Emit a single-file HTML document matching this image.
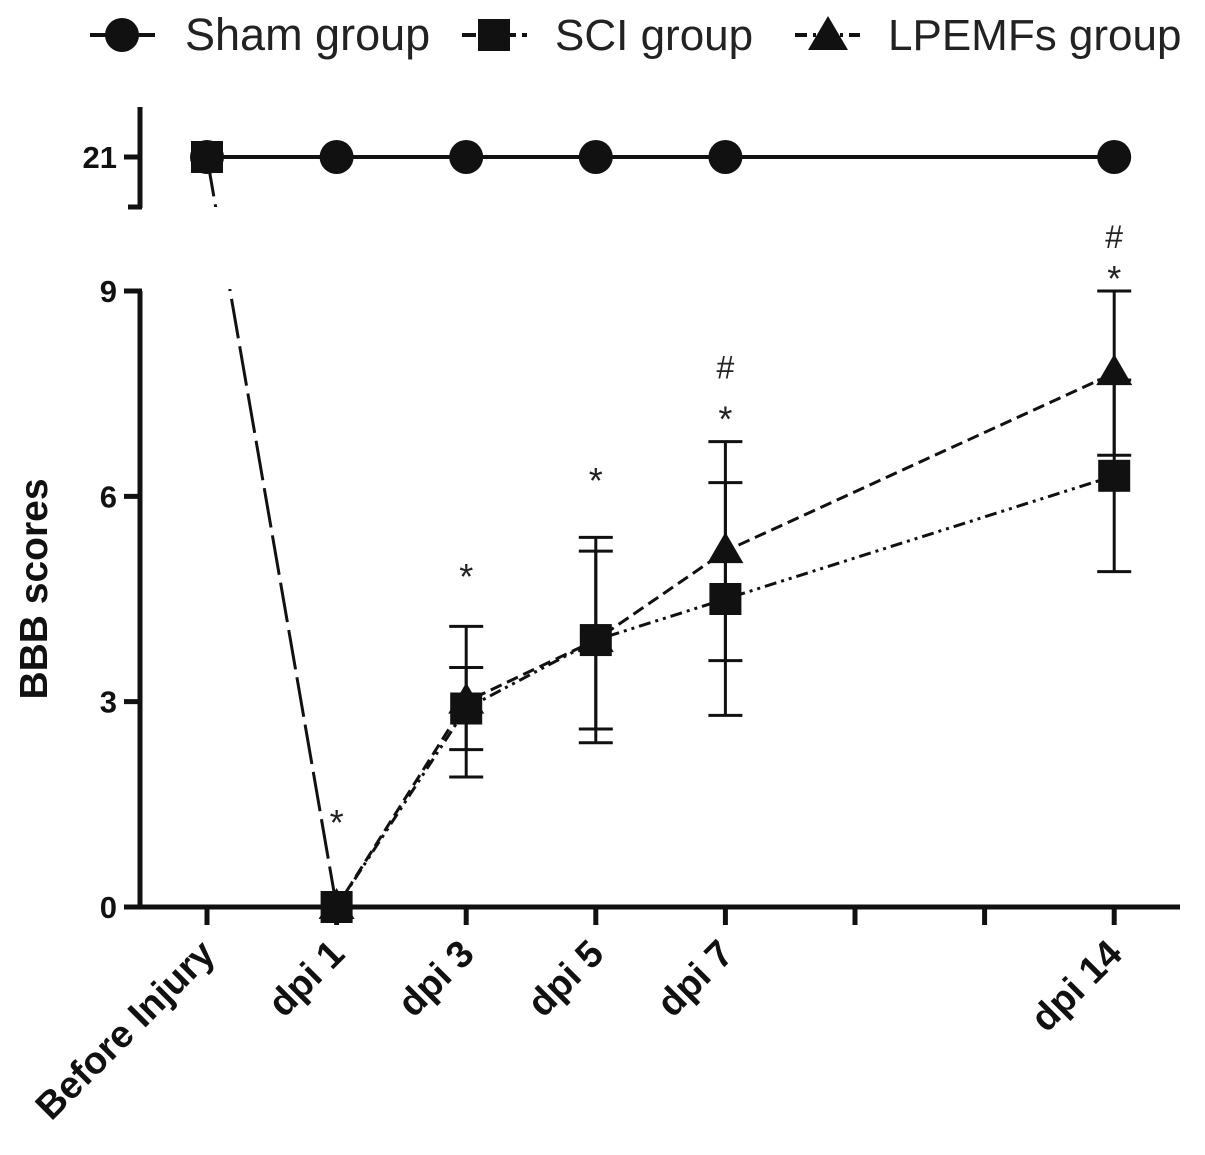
<!DOCTYPE html>
<html><head><meta charset="utf-8"><style>
html,body{margin:0;padding:0;background:#fff;}
svg{display:block;font-family:"Liberation Sans",sans-serif;}
</style></head><body>
<svg id="chart" width="1205" height="1155" viewBox="0 0 1205 1155">
<defs>
<clipPath id="lowClip"><rect x="140" y="289" width="1060" height="640"/></clipPath>
<clipPath id="upClip"><rect x="140" y="100" width="1060" height="107"/></clipPath>
</defs>
<g id="legend">
 <g>
  <line x1="90" y1="35" x2="155" y2="35" stroke="#111" stroke-width="4"/>
  <circle cx="122" cy="35" r="17" fill="#111"/>
  <text x="185" y="50" font-size="45" fill="#222">Sham group</text>
 </g>
 <g>
  <line x1="462" y1="35" x2="527" y2="35" stroke="#111" stroke-width="4" stroke-dasharray="14,6"/>
  <rect x="478" y="19" width="32" height="32" fill="#111"/>
  <text x="555" y="50" font-size="44" fill="#222">SCI group</text>
 </g>
 <g>
  <line x1="795" y1="35" x2="860" y2="35" stroke="#111" stroke-width="4" stroke-dasharray="12,6,3,6"/>
  <polygon points="828,16 848,50 808,50" fill="#111"/>
  <text x="888" y="50" font-size="44" fill="#222">LPEMFs group</text>
 </g>
</g>
<g id="axes"></g>
<g id="plot"></g>
</svg>
<script>
const categories = ["Before Injury","dpi 1","dpi 3","dpi 5","dpi 7","dpi 14"];
const catSlots = [0,1,2,3,4,7];
const shamValues = [21,21,21,21,21,21];
const sciValues = [21,0,2.9,3.9,4.5,6.3];
const sciErr = [0,0,0.6,1.3,1.7,1.4];
const lpValues = [21,0,3.0,3.9,5.2,7.8];
const lpErr = [0,0,1.1,1.5,1.6,1.2];
const lowTicks = [0,3,6,9];
const upTicks = [21];
const annotationIdx = [1,2,3,4,4,5,5];
const annotationSym = ["*","*","*","*","#","*","#"];
const annotationLevel = [1.4,5.0,6.4,7.3,7.9,9.35,9.8];

const NS="http://www.w3.org/2000/svg";
const axes=document.getElementById('axes');
const plot=document.getElementById('plot');
function el(tag,attrs,parent){const e=document.createElementNS(NS,tag);for(const k in attrs)e.setAttribute(k,attrs[k]);(parent||plot).appendChild(e);return e;}
function xS(slot){return 207+slot*129.6;}
function y(v){ if(v>=15) return 157-(v-21)*20; return 907-v*(616/9); }

let a=el('line',{x1:140,y1:291,x2:140,y2:909,stroke:'#111','stroke-width':5},axes);

a=el('line',{x1:140,y1:107,x2:140,y2:208,stroke:'#111','stroke-width':5},axes);

el('line',{x1:128,y1:207,x2:142,y2:207,stroke:'#111','stroke-width':5},axes);
a=el('line',{x1:138,y1:907,x2:1180,y2:907,stroke:'#111','stroke-width':5},axes);

lowTicks.concat(upTicks).forEach(t=>{
 el('line',{x1:124,y1:y(t),x2:142,y2:y(t),stroke:'#111','stroke-width':5},axes);
 const tx=el('text',{x:117,y:y(t)+11,'font-size':31,'font-weight':'bold','text-anchor':'end',fill:'#111'},axes);
 tx.textContent=t;
 
});
for(let s=0;s<8;s++){el('line',{x1:xS(s),y1:907,x2:xS(s),y2:925,stroke:'#111','stroke-width':5},axes);}
categories.forEach((c,i)=>{
 const x=xS(catSlots[i])+10, yy=956;
 const tx=el('text',{x:x,y:yy,'font-size':38,'font-weight':'bold','text-anchor':'end',fill:'#111',transform:`rotate(-45 ${x} ${yy})`},axes);
 tx.textContent=c;
 
});
const yt=el('text',{x:47,y:589,'font-size':39,'font-weight':'bold','text-anchor':'middle',fill:'#111',transform:'rotate(-90 47 589)'},axes);
yt.textContent='BBB scores';


['lowClip','upClip'].forEach(cp=>{
 const l=el('line',{x1:xS(0),y1:y(21),x2:xS(catSlots[1]),y2:y(sciValues[1]),stroke:'#111','stroke-width':3,'stroke-dasharray':'40,8','clip-path':`url(#${cp})`});
 
});
function pathFrom(vals,start){return vals.slice(start).map((v,i)=>(i?'L':'M')+xS(catSlots[i+start])+','+y(v)).join(' ');}
let p=el('path',{d:pathFrom(sciValues,1),fill:'none',stroke:'#111','stroke-width':3,'stroke-dasharray':'12,5,3,5,3,5'});

p=el('path',{d:pathFrom(lpValues,1),fill:'none',stroke:'#111','stroke-width':3,'stroke-dasharray':'12,6'});

p=el('path',{d:pathFrom(shamValues,0),fill:'none',stroke:'#111','stroke-width':4});


function errBar(i,v,e,name){
 if(!e)return;const x=xS(catSlots[i]);
 const g=el('g',{stroke:'#111','stroke-width':3});
 
 el('line',{x1:x,y1:y(v-e),x2:x,y2:y(v+e)},g);
 el('line',{x1:x-17,y1:y(v-e),x2:x+17,y2:y(v-e)},g);
 el('line',{x1:x-17,y1:y(v+e),x2:x+17,y2:y(v+e)},g);
}
sciValues.forEach((v,i)=>errBar(i,v,sciErr[i],'sci-error-bar'));
lpValues.forEach((v,i)=>errBar(i,v,lpErr[i],'lpemfs-error-bar'));

shamValues.forEach((v,i)=>{const c=el('circle',{cx:xS(catSlots[i]),cy:y(v),r:17,fill:'#111'});
 });
lpValues.forEach((v,i)=>{if(i===0)return;const x=xS(catSlots[i]),yy=y(v);
 const t=el('polygon',{points:`${x},${yy-19} ${x+18},${yy+12} ${x-18},${yy+12}`,fill:'#111'});
 });
sciValues.forEach((v,i)=>{const x=xS(catSlots[i]),yy=y(v);
 const r=el('rect',{x:x-16,y:yy-16,width:32,height:32,fill:'#111'});
 });

annotationIdx.forEach((ci,k)=>{
 const s=annotationSym[k];
 const x=xS(catSlots[ci]);
 const t=el('text',{x:x,y:y(annotationLevel[k])+(s==='*'?24:12),'font-size':s==='*'?36:32,'text-anchor':'middle',fill:'#222'});
 t.textContent=s;
 
});
</script>
</body></html>
